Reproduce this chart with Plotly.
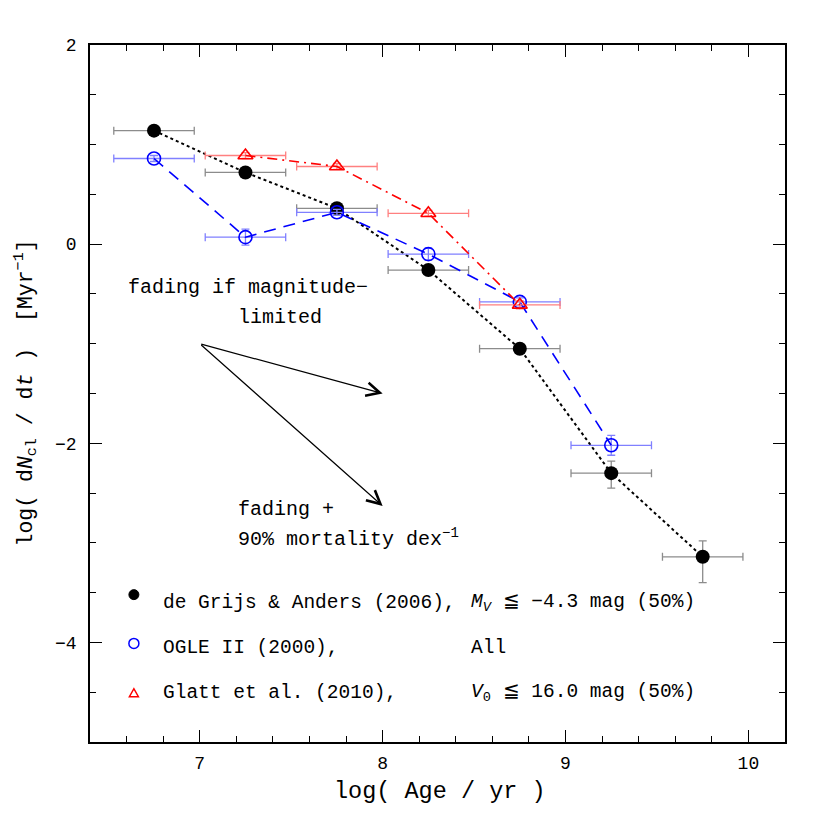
import plotly.graph_objects as go

# ---- data ----
log_age = [6.75, 7.25, 7.75, 8.25, 8.75, 9.25, 9.75]
age_halfwidth = [0.22, 0.22, 0.22, 0.22, 0.22, 0.22, 0.22]

dga_y = [1.14, 0.72, 0.36, -0.26, -1.05, -2.30, -3.14]
dga_err_plus = [0.03, 0.03, 0.03, 0.03, 0.04, 0.12, 0.16]
dga_err_minus = [0.03, 0.03, 0.03, 0.03, 0.04, 0.15, 0.26]

ogle_x = [6.75, 7.25, 7.75, 8.25, 8.75, 9.25]
ogle_y = [0.86, 0.07, 0.32, -0.10, -0.58, -2.02]
ogle_err = [0.03, 0.08, 0.03, 0.06, 0.04, 0.10]

glatt_x = [7.25, 7.75, 8.25, 8.75]
glatt_y = [0.89, 0.78, 0.31, -0.61]
glatt_err = [0.03, 0.03, 0.03, 0.04]

arrow_start = (7.0, -1.0)
arrow_fading_end = (8.0, -1.5)
arrow_mortality_end = (8.0, -2.63)

legend_labels = ["de Grijs &amp; Anders (2006),", "OGLE II (2000),", "Glatt et al. (2010),"]
legend_notes = ["<i>M</i><sub><i>V</i></sub> ≦ −4.3 mag (50%)", "All", "<i>V</i><sub>0</sub> ≦ 16.0 mag (50%)"]

FONT = "Liberation Mono"

fig = go.Figure()

fig.add_trace(go.Scatter(
    x=log_age, y=dga_y, mode="lines+markers",
    line=dict(color="black", width=2, dash="dot"),
    marker=dict(symbol="circle", size=14, color="black"),
    error_x=dict(type="data", array=age_halfwidth, color="#8c8c8c", thickness=1.3, width=4),
    error_y=dict(type="data", array=dga_err_plus, arrayminus=dga_err_minus, symmetric=False,
                 color="#8c8c8c", thickness=1.3, width=4),
    showlegend=False,
))
fig.add_trace(go.Scatter(
    x=ogle_x, y=ogle_y, mode="lines+markers",
    line=dict(color="blue", width=1.6, dash="12px,8px"),
    marker=dict(symbol="circle-open", size=13, color="blue", line=dict(width=1.6, color="blue")),
    error_x=dict(type="data", array=age_halfwidth[:len(ogle_x)], color="#8080ff", thickness=1.3, width=4),
    error_y=dict(type="data", array=ogle_err, color="#8080ff", thickness=1.3, width=4),
    showlegend=False,
))
fig.add_trace(go.Scatter(
    x=glatt_x, y=glatt_y, mode="lines+markers",
    line=dict(color="red", width=1.6, dash="10px,5px,2px,5px"),
    marker=dict(symbol="triangle-up-open", size=13, color="red", line=dict(width=1.6, color="red")),
    error_x=dict(type="data", array=age_halfwidth[:len(glatt_x)], color="#ff8080", thickness=1.3, width=4),
    error_y=dict(type="data", array=glatt_err, color="#ff8080", thickness=1.3, width=4),
    showlegend=False,
))

annotations = []
# arrows
for end in (arrow_fading_end, arrow_mortality_end):
    annotations.append(dict(
        x=end[0], y=end[1], ax=arrow_start[0], ay=arrow_start[1],
        xref="x", yref="y", axref="x", ayref="y", text="",
        showarrow=True, arrowhead=5, arrowsize=2.2, arrowwidth=1.2, arrowcolor="black",
    ))

def txt(x, y, s, size=20):
    annotations.append(dict(x=x, y=y, xref="x", yref="y", text=s, showarrow=False,
                            xanchor="left", yanchor="middle",
                            font=dict(family=FONT, size=size, color="black")))

txt(6.598, -0.44, "fading if magnitude−")
txt(7.2, -0.74, "limited")
txt(7.2, -2.66, "fading +")
txt(7.2, -2.95, "90% mortality dex<sup>−1</sup>")

legend_rows_y = [-3.6, -4.06, -4.51]
for lab, note, yy in zip(legend_labels, legend_notes, legend_rows_y):
    txt(6.79, yy, lab, size=19.5)
    txt(8.47, yy, note, size=19.5)

# axis titles
annotations.append(dict(x=0.5036, y=-0.0717, xref="paper", yref="paper", showarrow=False,
                        text="log(\u00a0Age\u00a0/\u00a0yr\u00a0)", xanchor="center", yanchor="middle",
                        font=dict(family=FONT, size=23.5, color="black")))
annotations.append(dict(x=-0.0935, y=0.50, xref="paper", yref="paper", showarrow=False, textangle=-90,
                        text="log(\u00a0d<i>N</i><sub>cl</sub>\u00a0/\u00a0d<i>t</i>\u00a0)\u00a0\u00a0[Myr<sup>−1</sup>]",
                        xanchor="center", yanchor="middle",
                        font=dict(family=FONT, size=21.5, color="black")))

shapes = []
# legend symbols (pixel-sized, anchored in data coords)
sym_x = 6.64
shapes.append(dict(type="circle", xref="x", yref="y", xsizemode="pixel", ysizemode="pixel",
                   xanchor=sym_x, yanchor=-3.52, x0=-5, x1=5, y0=-5, y1=5,
                   fillcolor="black", line=dict(color="black", width=1)))
shapes.append(dict(type="circle", xref="x", yref="y", xsizemode="pixel", ysizemode="pixel",
                   xanchor=sym_x, yanchor=-4.01, x0=-5, x1=5, y0=-5, y1=5,
                   fillcolor="rgba(0,0,0,0)", line=dict(color="blue", width=1.5)))
shapes.append(dict(type="path", xref="x", yref="y", xsizemode="pixel", ysizemode="pixel",
                   xanchor=sym_x, yanchor=-4.51, path="M -4.5 -3.5 L 4.5 -3.5 L 0 4.5 Z",
                   fillcolor="rgba(0,0,0,0)", line=dict(color="red", width=1.5)))

axis_common = dict(
    showgrid=False, zeroline=False, showline=True, linecolor="black", linewidth=1.5,
    mirror="ticks", ticks="inside", ticklen=12, tickwidth=1.3, tickcolor="black",
    tickfont=dict(family=FONT, size=18, color="black"), automargin=False,
)

# margins compensate for the 8px default body margin of the page
fig.update_layout(
    width=830, height=830,
    margin=dict(l=82, r=53, t=37, b=96),
    plot_bgcolor="white", paper_bgcolor="white",
    xaxis=dict(range=[6.4, 10.2], tick0=7, dtick=1, ticklabelstandoff=4,
               minor=dict(dtick=0.2, ticklen=6, ticks="inside", tickcolor="black", tickwidth=1.2),
               **axis_common),
    yaxis=dict(range=[-5, 2], tick0=0, dtick=2, ticklabelstandoff=8,
               minor=dict(dtick=0.5, ticklen=6, ticks="inside", tickcolor="black", tickwidth=1.2),
               **axis_common),
    annotations=annotations,
    shapes=shapes,
)

fig.write_html("out.html")
